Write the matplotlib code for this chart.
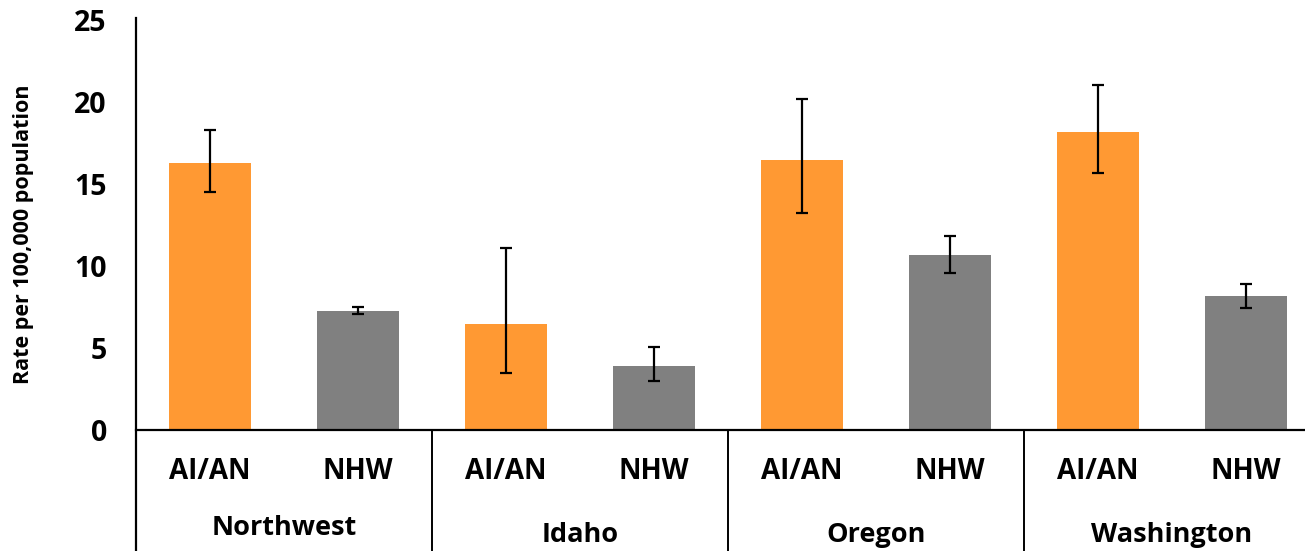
import numpy as np
import matplotlib.pyplot as plt

# Rates per 100,000 with 95% CI bounds
regions = ['Northwest', 'Idaho', 'Oregon', 'Washington']
groups = ['AI/AN', 'NHW']
rates = [16.3, 7.25, 6.45, 3.9, 16.45, 10.65, 18.2, 8.15]
ci_low = [14.5, 7.1, 3.45, 2.97, 13.25, 9.6, 15.65, 7.42]
ci_high = [18.3, 7.5, 11.1, 5.05, 20.2, 11.8, 21.05, 8.92]
colors = ['#FF9933', '#808080']

plt.rcParams['font.family'] = ['Open Sans', 'DejaVu Sans']
plt.rcParams['font.weight'] = 'bold'

fig = plt.figure(figsize=(13.05, 5.51), dpi=100)
H = 551.0
ax = fig.add_axes([136/1305, (H-430)/H, 148*8/1305, 410/H])

x = np.arange(len(rates))
rates = np.array(rates)
yerr = [rates - np.array(ci_low), np.array(ci_high) - rates]
bar_cols = [colors[i % 2] for i in range(len(rates))]
ax.bar(x, rates, width=0.56, color=bar_cols, zorder=2)
ax.errorbar(x, rates, yerr=yerr, fmt='none', ecolor='black', elinewidth=1.6,
            capsize=4.5, capthick=1.6, zorder=3)

ax.set_xlim(-0.5, 7.5)
ax.set_ylim(0, 25)
ax.set_yticks([0, 5, 10, 15, 20, 25])
ax.tick_params(axis='y', length=0, pad=21, labelsize=20.5)
ax.set_xticks([])
for s in ['top', 'right', 'left']:
    ax.spines[s].set_visible(False)
ax.spines['bottom'].set_linewidth(1.6)

# axis line and group dividers running down into the label area
tr = ax.get_xaxis_transform()
below = -121/410
ax.plot([-0.5, -0.5], [below, 1.005], color='black', lw=1.6, transform=tr, clip_on=False)
for d in [1.5, 3.5, 5.5]:
    ax.plot([d, d], [below, 0], color='black', lw=1.4, transform=tr, clip_on=False)

for i in range(len(rates)):
    ax.text(i, -41.7/410, groups[i % 2], transform=tr, ha='center', va='center',
            fontsize=20, fontweight='bold')
for j, r in enumerate(regions):
    yb = -(535 if j == 0 else 542)/410 + 430/410
    ax.text(2*j + 0.5, yb, r, transform=tr, ha='center', va='baseline',
            fontsize=19.5, fontweight='bold')

fig.text(24/1305, (H-234.5)/H, 'Rate per 100,000 population', rotation=90,
         ha='center', va='center', fontsize=15.5, fontweight='bold')

fig.savefig('out.png', dpi=100)
